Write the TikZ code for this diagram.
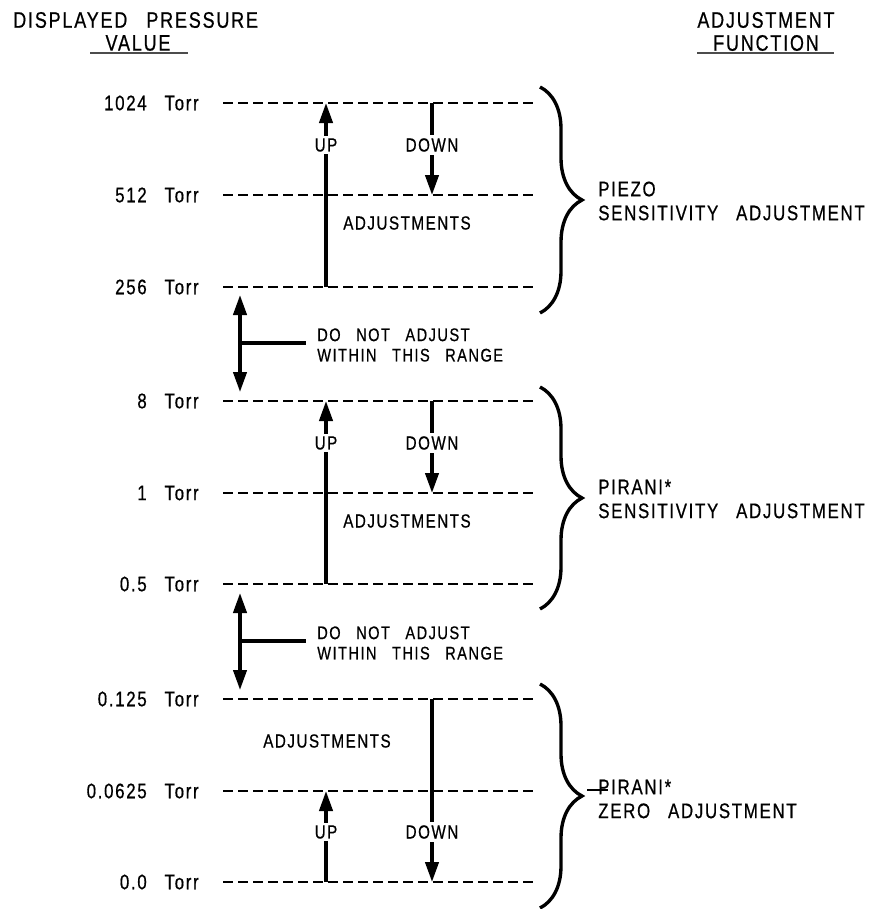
\documentclass[tikz,border=0pt]{standalone}
\usepackage{fontspec}
\setmainfont{Liberation Sans}[FakeStretch=0.8,FakeBold=0.6,LetterSpace=8,WordSpace=2.8]
\usetikzlibrary{arrows.meta,decorations.pathreplacing}

\tikzset{
  lev/.style={line width=1.6pt, dash pattern=on 0.26cm off 0.115cm},
  adj/.style={line width=2.5pt, -{Triangle[length=0.5cm,width=0.33cm]}},
  both/.style={line width=2.5pt, {Triangle[length=0.5cm,width=0.33cm]}-{Triangle[length=0.5cm,width=0.33cm]}},
  brc/.style={decorate, decoration={brace,amplitude=1.05cm}, line width=2.4pt},
  tag/.style={fill=white, inner sep=2pt, font=\fontsize{13.5}{15}\selectfont},
  note/.style={anchor=west, align=left, inner sep=0pt},
  hdr/.style={inner sep=0pt, font=\fontsize{16}{18}\selectfont},
  uline/.style={line width=1.2pt, black!70}
}

\begin{document}
\begin{tikzpicture}[x=0.025cm, y=-0.025cm, font=\fontsize{15}{17}\selectfont]
  \useasboundingbox (0,0) rectangle (881,909);

  % headings
  \node[hdr, anchor=west] (hdrP) at (13,20) {DISPLAYED PRESSURE};
  \node[hdr] (hdrV) at (138,43) {VALUE};
  \draw[uline] (90,53) -- (188,53);
  \node[hdr] (hdrA) at (766,20) {ADJUSTMENT};
  \node[hdr] (hdrF) at (766,43) {FUNCTION};
  \draw[uline] (697,53) -- (834,53);

  % pressure levels
  \foreach \y/\v [count=\i] in {103/1024, 195/512, 287/256, 401/8, 493/1,
                                584/0.5, 699/0.125, 791/0.0625, 882/0.0}{
    \coordinate (r\i) at (223,\y);
    \coordinate (e\i) at (537,\y);
    \node[anchor=east, inner sep=0pt] (t\i) at (199,\y) {\v~Torr};
    \draw[lev] (r\i) -- (e\i);
  }
  \coordinate (ux) at (326,0);
  \coordinate (dx) at (432,0);

  % piezo
  \draw[adj] (ux |- r3) -- (ux |- r1);
  \draw[adj] (dx |- r1) -- (dx |- r2);
  \node[tag] (up1) at (326,145) {UP};
  \node[tag] (dn1) at (432,145) {DOWN};
  \node[tag] (adj1) at (407,223) {ADJUSTMENTS};

  % pirani sensitivity
  \draw[adj] (ux |- r6) -- (ux |- r4);
  \draw[adj] (dx |- r4) -- (dx |- r5);
  \node[tag] (up2) at (326,443) {UP};
  \node[tag] (dn2) at (432,443) {DOWN};
  \node[tag] (adj2) at (407,521) {ADJUSTMENTS};

  % pirani zero
  \draw[adj] (dx |- r7) -- (dx |- r9);
  \draw[adj] (ux |- r9) -- (ux |- r8);
  \node[tag] (up3) at (326,832) {UP};
  \node[tag] (dn3) at (432,832) {DOWN};
  \node[tag] (adj3) at (327,741) {ADJUSTMENTS};

  % ranges not to adjust
  \coordinate (na1) at (240,295);
  \coordinate (nb1) at (240,392);
  \coordinate (nm1) at (240,343);
  \coordinate (ne1) at (306,343);
  \draw[both] (na1) -- (nb1);
  \draw[line width=2.5pt] (nm1) -- (ne1);
  \node[note, font=\fontsize{13}{14.5}\selectfont] (dna1) at (317,345) {DO NOT ADJUST\\WITHIN THIS RANGE};
  \coordinate (na2) at (240,593);
  \coordinate (nb2) at (240,690);
  \coordinate (nm2) at (240,641);
  \coordinate (ne2) at (306,641);
  \draw[both] (na2) -- (nb2);
  \draw[line width=2.5pt] (nm2) -- (ne2);
  \node[note, font=\fontsize{13}{14.5}\selectfont] (dna2) at (317,643) {DO NOT ADJUST\\WITHIN THIS RANGE};

  % braces
  \draw[brc] (540,87) -- (540,313);
  \node[note] (fn1) at (598,201) {PIEZO\\SENSITIVITY ADJUSTMENT};
  \draw[brc] (540,387) -- (540,609);
  \node[note] (fn2) at (598,499) {PIRANI*\\SENSITIVITY ADJUSTMENT};
  \draw[brc] (540,684) -- (540,908);
  \node[note] (fn3) at (598,799) {PIRANI*\\ZERO ADJUSTMENT};
  \coordinate (lk) at (587,790);
  \draw[line width=0.8pt] (lk) -- (fn3.west |- lk) -- ++(10,0);
\end{tikzpicture}
\end{document}
